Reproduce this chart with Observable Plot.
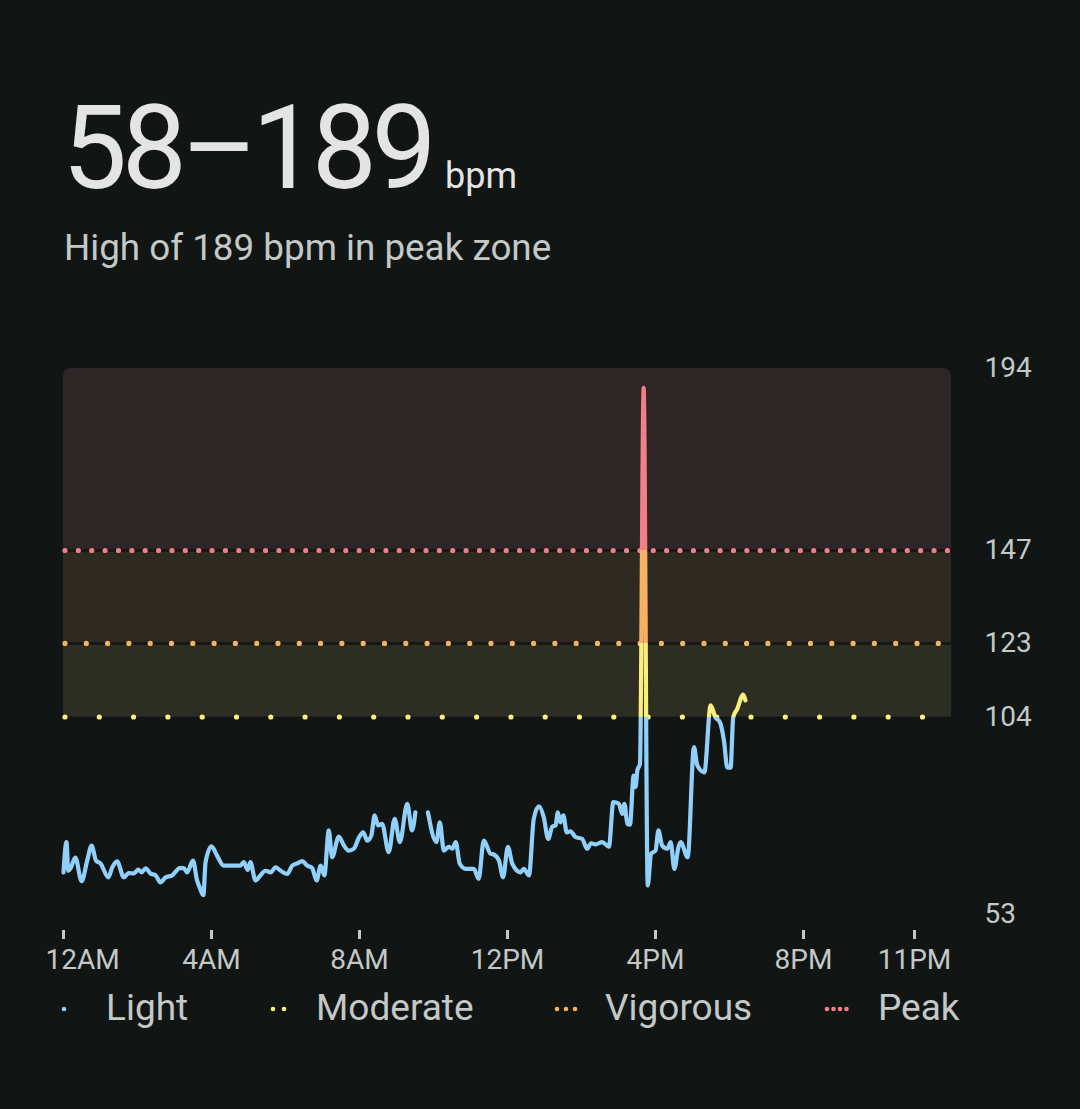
<!DOCTYPE html>
<html>
<head>
<meta charset="utf-8">
<script src="https://cdn.jsdelivr.net/npm/d3@7"></script>
<script src="https://cdn.jsdelivr.net/npm/@observablehq/plot@0.6"></script>
<style>
  html, body { margin: 0; padding: 0; background: #111615; }
  body { width: 1080px; height: 1109px; position: relative; overflow: hidden; font-family: Roboto, "Open Sans", sans-serif; }
  #title { position: absolute; left: 62px; top: 90px; display: flex; align-items: baseline; line-height: 1; color: #e3e4e3; }
  #big { font-size: 116px; letter-spacing: -5.5px; }
  #unit { font-size: 36px; margin-left: 14px; color: #e3e4e3; }
  #subtitle { position: absolute; left: 64px; top: 230px; font-size: 36.8px; line-height: 1; color: #c4c8c6; }
  #chart { position: absolute; left: 0; top: 330px; }
  #legend { position: absolute; left: 0; top: 986px; width: 1080px; height: 44px; }
  .lg-dots { position: absolute; top: 0; height: 44px; }
  .lg-text { position: absolute; top: 0; font-size: 37px; line-height: 44px; color: #c4c8c6; }
</style>
</head>
<body>
<div id="title"><span id="big"></span><span id="unit"></span></div>
<div id="subtitle"></div>
<div id="chart"></div>
<div id="legend"></div>
<script>
// ---------- data ----------
const titleRange = "58–189";
const titleUnit = "bpm";
const subtitleText = "High of 189 bpm in peak zone";

const zoneNames = ["Light", "Moderate", "Vigorous", "Peak"];
const zoneLower = [53, 104, 123, 147];
const zoneUpper = [104, 123, 147, 194];
const zoneColors = ["#90d0fa", "#fbef7c", "#f6b262", "#f27f87"];
const bandFills = [null, "#2c2e23", "#2e2a21", "#2d2526"];

const yTicks = [53, 104, 123, 147, 194];
const xTickHours = [0, 4, 8, 12, 16, 20, 23];
const xTickLabels = ["12AM", "4AM", "8AM", "12PM", "4PM", "8PM", "11PM"];
const xDomain = [0, 24];

// time of day in hours, heart rate in bpm (null = no reading)
const hours = [
  0, 0.08, 0.13, 0.19, 0.32, 0.49, 0.64, 0.76, 0.88, 1.0,
  1.21, 1.32, 1.45, 1.63, 1.76, 1.9, 2.02, 2.11, 2.22, 2.35,
  2.49, 2.62, 2.76, 2.94, 3.14, 3.25, 3.34, 3.5, 3.61, 3.68,
  3.78, 3.84, 4.0, 4.15, 4.33, 4.78, 4.87,
  4.98, 5.05, 5.19, 5.32, 5.46, 5.6, 5.73, 5.87, 6.05, 6.18,
  6.32, 6.45, 6.59, 6.72, 6.84, 6.95, 7.05, 7.17, 7.26, 7.44,
  7.58, 7.71, 7.85, 7.98, 8.1, 8.21, 8.32, 8.41, 8.5, 8.61,
  8.79, 8.95, 9.09, 9.29, 9.42, 9.51,
  9.68,
  9.85, 10.08, 10.17, 10.28, 10.41, 10.51, 10.6, 10.71, 10.87, 11.09,
  11.22, 11.36, 11.54, 11.63, 11.77, 11.88, 12.01, 12.13, 12.35, 12.44,
  12.58, 12.71, 12.85, 12.98, 13.1, 13.21, 13.3, 13.36, 13.43, 13.51,
  13.6, 13.7, 13.84, 14.02, 14.15, 14.26, 14.38, 14.56, 14.74, 14.86,
  15.01, 15.1, 15.16, 15.24, 15.31, 15.41, 15.46, 15.51, 15.58, 15.68,
  15.79, 15.88, 16.0, 16.08, 16.18, 16.32, 16.41, 16.51, 16.62, 16.68,
  16.87, 17.04, 17.13, 17.32, 17.49, 17.62, 17.74, 17.85, 17.94, 18.03,
  18.1, 18.21, 18.37, 18.43
];
const bpm = [
  63.9, 71.7, 64.3, 64.9, 67.7, 61.6, 66.9, 70.8, 66.9, 66.2,
  62.6, 65.2, 66.7, 62.6, 63.7, 63.6, 64.6, 63.9, 64.9, 63.6,
  63.1, 61.3, 62.6, 63.1, 65.0, 65.0, 63.9, 66.9, 61.8, 60.0,
  58, 66.5, 70.6, 68.2, 65.6, 65.6, 66.5,
  64.5, 66.5, 61.8, 63.1, 64.3, 63.9, 65.2, 64.3, 63.5, 65.6,
  66.2, 66.8, 65.6, 65.0, 61.8, 65.6, 63.1, 74.7, 67.8, 73.1,
  70.8, 69.5, 70.0, 72.8, 74.2, 72.1, 73.4, 78.6, 76.0, 76.4,
  69.1, 77.7, 71.7, 81.6, 74.7, 79.4,
  null,
  79.4, 71.7, 76.8, 69.5, 70.5, 70.0, 71.7, 66.1, 64.8, 64.8,
  62.2, 72.1, 68.7, 68.5, 66.9, 62.6, 70.5, 66.1, 63.9, 64.8,
  63.1, 77.7, 80.9, 78.1, 72.5, 75.7, 76.0, 79.4, 76.8, 78.6,
  74.2, 74.5, 73.0, 72.5, 70.0, 71.4, 71.1, 71.7, 70.5, 82.0,
  81.6, 79.0, 81.6, 76.4, 76.2, 88.9, 85.9, 90.2, 91.9, 189,
  60.5, 68.7, 69.5, 74.7, 70.8, 70.0, 71.7, 64.8, 70.4, 71.7,
  67.8, 96.2, 91.5, 89.7, 107.0, 103.9, 102.7, 97.9, 91.0, 90.9,
  103.9, 106.1, 109.8, 108.3
];

// ---------- build ----------
const bg = "#111615";
const textColor = "#c4c8c6";
const dotSpacing = [0, 34.3, 21.3, 13.37];

const hr = hours.map((t, i) => ({t, bpm: bpm[i]}));
const yDomain = [d3.min(yTicks), d3.max(yTicks)];

const peakBand = [{lo: zoneLower[1], hi: zoneUpper[3]}];
const lowerBands = [1, 2].map(i => ({lo: zoneLower[i], hi: zoneUpper[i], fill: bandFills[i]}));

function zoneGradient(index, {y}) {
  const ns = "http://www.w3.org/2000/svg";
  const g = document.createElementNS(ns, "g");
  const defs = document.createElementNS(ns, "defs");
  const lg = document.createElementNS(ns, "linearGradient");
  lg.setAttribute("id", "zoneGrad");
  lg.setAttribute("gradientUnits", "userSpaceOnUse");
  const top = y(yDomain[1]), bot = y(yDomain[0]);
  lg.setAttribute("x1", 0); lg.setAttribute("x2", 0);
  lg.setAttribute("y1", top); lg.setAttribute("y2", bot);
  const off = v => (y(v) - top) / (bot - top);
  const stops = [];
  for (let i = zoneNames.length - 1; i >= 0; i--) {
    const a = i === zoneNames.length - 1 ? 0 : off(zoneUpper[i]);
    const b = i === 0 ? 1 : off(zoneLower[i]);
    stops.push([a, zoneColors[i]], [b, zoneColors[i]]);
  }
  for (const [o, c] of stops) {
    const s = document.createElementNS(ns, "stop");
    s.setAttribute("offset", o);
    s.setAttribute("stop-color", c);
    lg.appendChild(s);
  }
  defs.appendChild(lg);
  g.appendChild(defs);
  return g;
}

const dottedRules = [1, 2, 3].map(i =>
  Plot.ruleY([zoneLower[i]], {
    stroke: zoneColors[i], strokeWidth: 5.2, strokeLinecap: "round",
    strokeDasharray: `0 ${dotSpacing[i]}`, dx: 2
  })
);

const xFmt = d => xTickLabels[xTickHours.indexOf(d)];

const plot = Plot.plot({
  width: 1080,
  height: 650,
  marginLeft: 63,
  marginRight: 129,
  marginTop: 38,
  marginBottom: 66,
  style: {background: "transparent", fontFamily: "Roboto, sans-serif"},
  x: {domain: xDomain, label: null},
  y: {domain: yDomain, label: null},
  marks: [
    zoneGradient,
    Plot.rect(peakBand, {x1: () => xDomain[0], x2: () => xDomain[1], y1: "lo", y2: "hi", fill: bandFills[3], rx: 8}),
    Plot.rect(lowerBands, {x1: () => xDomain[0], x2: () => xDomain[1], y1: "lo", y2: "hi", fill: "fill"}),
    Plot.ruleY([zoneLower[2], zoneLower[3]], {stroke: bg, strokeWidth: 2.5}),
    ...dottedRules,
    Plot.line(hr, {x: "t", y: "bpm", stroke: "url(#zoneGrad)", strokeWidth: 4.2, curve: "monotone-x", strokeLinejoin: "round", strokeLinecap: "round"}),
    Plot.axisY(yTicks, {anchor: "right", tickSize: 0, tickPadding: 33, fontSize: 28, color: textColor, label: null}),
    Plot.axisX(xTickHours, {
      anchor: "bottom", tickSize: 9, tickPadding: 10, dy: 16, fontSize: 28,
      color: textColor, strokeWidth: 3, tickFormat: xFmt, label: null
    })
  ]
});
document.getElementById("chart").appendChild(plot);

// the first x label (12AM) sits to the right of its tick in the reference
const firstLabel = [...plot.querySelectorAll("text")]
  .find(t => t.textContent === xTickLabels[0]);
if (firstLabel) firstLabel.setAttribute("dx", "19");

document.getElementById("big").textContent = titleRange;
document.getElementById("unit").textContent = titleUnit;
document.getElementById("subtitle").textContent = subtitleText;

// legend
const legendDotLeft = [60, 269, 553, 823];
const legendTextLeft = [106, 316, 605, 878];
const legendGap = [0, 11, 9, 6.5];
const legend = document.getElementById("legend");
zoneNames.forEach((name, i) => {
  const n = i + 1;
  const w = 8 + legendGap[i] * (n - 1);
  const svg = d3.create("svg").attr("class", "lg-dots")
    .attr("width", w).attr("height", 44)
    .style("left", legendDotLeft[i] + "px");
  svg.selectAll("circle").data(d3.range(n)).join("circle")
    .attr("cx", k => 4 + k * legendGap[i]).attr("cy", 23).attr("r", 2.3)
    .attr("fill", zoneColors[i]);
  legend.appendChild(svg.node());
  const span = document.createElement("span");
  span.className = "lg-text";
  span.style.left = legendTextLeft[i] + "px";
  span.textContent = name;
  legend.appendChild(span);
});
</script>
</body>
</html>
